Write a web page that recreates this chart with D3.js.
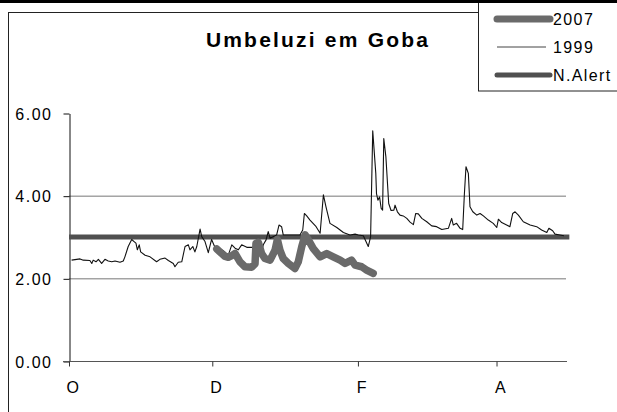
<!DOCTYPE html>
<html>
<head>
<meta charset="utf-8">
<script src="https://cdn.jsdelivr.net/npm/d3@7"></script>
<style>
  body { margin: 0; background: #fff; }
  svg { display: block; font-family: "Liberation Sans", Arial, sans-serif; }
</style>
</head>
<body>
<div id="vis"></div>
<script>
// season starts 1 Oct, x values are days after that
var seasonStart = new Date(1998, 9, 1);
var seasonEnd = new Date(1999, 4, 1);

var tickMonths = [new Date(1998, 9, 1), new Date(1998, 11, 1), new Date(1999, 1, 1), new Date(1999, 3, 1)];
var tickLabels = ["O", "D", "F", "A"];
var yTicks = [0, 2, 4, 6];
var gridValues = [2, 4];

var days1999 = [1.1, 4.7, 6.1, 8.9, 9.7, 10.3, 11.5, 12.5, 13.9, 15.3, 16.7, 18.2, 19.6, 21.7, 23.1, 23.8,
  25.2, 26.7, 27.7, 28.5, 29.1, 29.9, 30.5, 32.4, 34.5, 37.3, 38.7, 40.9, 42.3, 44.4, 45.1, 46.5, 48.0,
  49.4, 50.8, 51.5, 52.7, 53.6, 54.4, 55.8, 56.5, 57.9, 59.3, 60.7, 62.2, 63.6, 65.7, 67.8, 69.3, 70.7,
  72.1, 73.5, 75.7, 78.5, 80.6, 82.0, 82.7, 83.9, 84.8, 85.6, 88.4, 89.4, 90.5, 91.2, 93.4, 96.2, 98.3,
  99.5, 100.2, 101.2, 102.6, 105.2, 106.9, 108.3, 109.4, 111.1, 114.0, 116.8, 119.6, 121.8, 123.2, 125.3,
  127.4, 128.4, 129.3, 130.6, 130.9, 131.5, 132.2, 132.9, 133.5, 134.0, 134.9, 136.1, 137.1, 138.3, 138.8,
  139.8, 140.9, 142.3, 143.8, 145.2, 146.6, 147.6, 148.7, 150.2, 152.3, 154.4, 156.5, 158.7, 161.5, 162.9,
  163.6, 165.0, 166.5, 167.6, 168.3, 169.0, 170.0, 170.7, 171.9, 173.6, 175.0, 176.4, 178.5, 180.6, 182.1,
  182.8, 184.2, 186.3, 187.7, 188.9, 189.9, 191.3, 193.4, 196.3, 199.1, 201.2, 203.4, 204.3, 205.9, 206.9,
  209.0, 210.7];
var vals1999 = [2.44, 2.47, 2.44, 2.43, 2.36, 2.44, 2.40, 2.46, 2.36, 2.46, 2.42, 2.40, 2.42, 2.39, 2.42, 2.52,
  2.77, 2.94, 2.89, 2.85, 2.69, 2.81, 2.64, 2.56, 2.52, 2.40, 2.46, 2.49, 2.43, 2.36, 2.28, 2.39, 2.40,
  2.77, 2.81, 2.69, 2.77, 2.64, 2.77, 3.19, 3.01, 2.89, 2.62, 2.94, 2.74, 2.71, 2.67, 2.56, 2.81, 2.73,
  2.69, 2.81, 2.75, 2.75, 2.73, 2.64, 2.81, 2.93, 3.13, 2.97, 3.05, 3.29, 3.25, 3.05, 3.05, 3.05, 3.05,
  3.17, 3.57, 3.51, 3.41, 3.25, 3.09, 4.02, 3.73, 3.33, 3.23, 3.11, 3.05, 3.07, 3.05, 3.03,
  2.77, 3.01, 5.57, 4.54, 4.05, 3.89, 3.97, 3.69, 3.65, 5.38, 4.94, 3.81, 3.64, 3.65, 3.77,
  3.61, 3.53, 3.51, 3.45, 3.36, 3.30, 3.57, 3.56, 3.45, 3.37, 3.27, 3.25, 3.18, 3.21, 3.45,
  3.29, 3.33, 3.21, 3.18, 4.02, 4.70, 4.54, 3.73, 3.61, 3.53, 3.57, 3.51, 3.41, 3.33, 3.23,
  3.43, 3.35, 3.29, 3.25, 3.57, 3.61, 3.53, 3.37, 3.29, 3.25, 3.17, 3.11, 3.21, 3.15, 3.07,
  3.05, 3.03];

var days2007 = [62.9, 65.0, 66.4, 67.8, 69.3, 70.7, 72.8, 74.9, 77.8, 79.2, 79.6, 80.6, 82.0, 83.4, 85.6,
  87.7, 88.7, 89.8, 91.2, 93.4, 96.2, 97.6, 99.1, 100.5, 101.9, 104.0, 106.9, 109.7, 112.5, 115.4, 117.5,
  120.3, 121.8, 124.6, 126.7, 129.5];
var vals2007 = [2.71, 2.60, 2.53, 2.51, 2.55, 2.60, 2.40, 2.28, 2.27, 2.35, 2.85, 2.87, 2.60, 2.48, 2.44,
  2.68, 2.94, 2.68, 2.48, 2.36, 2.24, 2.40, 2.77, 3.05, 2.93, 2.72, 2.52, 2.60, 2.52, 2.44, 2.36,
  2.44, 2.32, 2.28, 2.20, 2.12];

var alertDays = [0, 213];
var alertVals = [3.0, 3.0];

var legendNames = ["2007", "1999", "N.Alert"];

function drawChart() {
	var width = 617, height = 412;

	var svg = d3.select("#vis").append("svg")
		.attr("width", width)
		.attr("height", height);

	var x = d3.scaleTime()
		.domain([seasonStart, seasonEnd])
		.range([69, 567]);

	var y = d3.scaleLinear()
		.domain([0, 6])
		.range([361, 113]);

	function toDate(d) { return seasonStart.getTime() + d * 864e5; }

	// top rule and outer frame
	svg.append("rect").attr("x", 0).attr("y", 0).attr("width", width).attr("height", 3).attr("fill", "#000");
	svg.append("rect")
		.attr("x", 8.5).attr("y", 12.5)
		.attr("width", 640).attr("height", 440)
		.attr("fill", "none").attr("stroke", "#222");

	// title
	svg.append("text")
		.attr("x", 318).attr("y", 47)
		.attr("text-anchor", "middle")
		.style("font-size", "21px").style("font-weight", "bold")
		.style("letter-spacing", "2.2px")
		.text("Umbeluzi em Goba");

	// grid
	svg.selectAll("line.grid").data(gridValues).enter().append("line")
		.attr("class", "grid")
		.attr("x1", 69).attr("x2", 566)
		.attr("y1", function(d) { return y(d) + 0.5; })
		.attr("y2", function(d) { return y(d) + 0.5; })
		.attr("stroke", "#777").attr("stroke-width", 1);

	// axes
	var yAxis = d3.axisLeft(y).tickValues(yTicks).tickSize(6).tickSizeOuter(0)
		.tickFormat(d3.format(".2f"));
	var gy = svg.append("g").attr("transform", "translate(69.5,0.5)").call(yAxis);
	gy.select(".domain").attr("stroke", "#111");
	gy.selectAll(".tick line").attr("stroke", "#111");
	gy.selectAll(".tick text")
		.attr("x", -17).attr("dy", "0.36em")
		.style("font-size", "16px").style("letter-spacing", "1.5px").attr("fill", "#000")
		.attr("font-family", null);

	var xAxis = d3.axisBottom(x).tickValues(tickMonths).tickSize(5).tickSizeOuter(0)
		.tickFormat(function(d, i) { return tickLabels[i]; });
	var gx = svg.append("g").attr("transform", "translate(0,361.5)").call(xAxis);
	gx.select(".domain").attr("d", "M63,0H567").attr("stroke", "#555");
	gx.selectAll(".tick line").attr("stroke", "#333");
	gx.selectAll(".tick text")
		.attr("y", 20).attr("dx", "0.2em")
		.style("font-size", "16px").attr("fill", "#000")
		.attr("font-family", null);

	var line = d3.line()
		.x(function(d) { return x(toDate(d[0])); })
		.y(function(d) { return y(d[1]); });

	// N.Alert level
	svg.append("path")
		.datum(d3.zip(alertDays, alertVals))
		.attr("d", line)
		.attr("fill", "none").attr("stroke", "#505050").attr("stroke-width", 5);

	// 1999
	svg.append("path")
		.datum(d3.zip(days1999, vals1999))
		.attr("d", line)
		.attr("fill", "none").attr("stroke", "#111").attr("stroke-width", 1.1)
		.attr("stroke-linejoin", "round");

	// 2007
	svg.append("path")
		.datum(d3.zip(days2007, vals2007))
		.attr("d", line)
		.attr("fill", "none").attr("stroke", "#6a6a6a").attr("stroke-width", 7.5)
		.attr("stroke-linejoin", "round").attr("stroke-linecap", "round");

	// legend
	svg.append("rect")
		.attr("x", 478.5).attr("y", -5)
		.attr("width", 160).attr("height", 96)
		.attr("fill", "#fff").attr("stroke", "#222");
	svg.append("rect").attr("x", 470).attr("y", 0).attr("width", 160).attr("height", 3).attr("fill", "#000");

	var legendStyle = [
		{ w: 7, c: "#6a6a6a", x1: 497, x2: 550, cap: "round" },
		{ w: 1, c: "#444", x1: 497, x2: 546, cap: "butt" },
		{ w: 5, c: "#505050", x1: 497, x2: 550, cap: "round" }
	];
	var lg = svg.selectAll("g.legend").data(legendNames).enter().append("g")
		.attr("class", "legend")
		.attr("transform", function(d, i) { return "translate(0," + (19 + i * 28) + ")"; });
	lg.append("line")
		.attr("x1", function(d, i) { return legendStyle[i].x1; })
		.attr("x2", function(d, i) { return legendStyle[i].x2; })
		.attr("stroke", function(d, i) { return legendStyle[i].c; })
		.attr("stroke-width", function(d, i) { return legendStyle[i].w; })
		.attr("stroke-linecap", function(d, i) { return legendStyle[i].cap; });
	lg.append("text")
		.attr("x", 553).attr("dy", "0.36em")
		.style("font-size", "16px").style("letter-spacing", "1.4px")
		.text(function(d) { return d; });
}

drawChart();
</script>
</body>
</html>
